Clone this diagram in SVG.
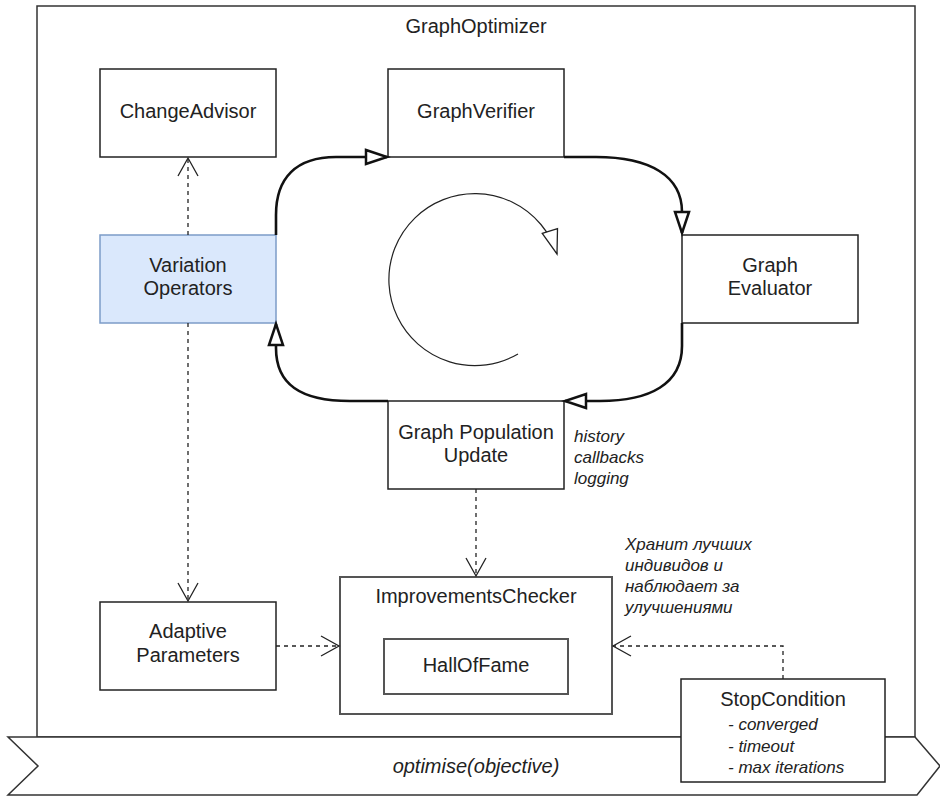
<svg xmlns="http://www.w3.org/2000/svg" width="940" height="796" viewBox="0 0 940 796">
  <style>
    .box { fill: #ffffff; stroke: #222222; stroke-width: 1.5; }
    .blue { fill: #dae8fc; stroke: #7c9cc8; stroke-width: 1.5; }
    .gbox { fill: #ffffff; stroke: #555555; stroke-width: 2; }
    .t { font-family: "Liberation Sans", Arial, sans-serif; font-size: 20px; fill: #222222; text-anchor: middle; }
    .n { font-family: "Liberation Sans", Arial, sans-serif; font-size: 17px; font-style: italic; fill: #222222; }
    .loop { fill: none; stroke: #111111; stroke-width: 2.6; marker-end: url(#block); }
    .dash { fill: none; stroke: #222222; stroke-width: 1.3; stroke-dasharray: 4 4; marker-end: url(#open); }
  </style>
  <defs>
    <marker id="block" markerUnits="userSpaceOnUse" markerWidth="30" markerHeight="24" viewBox="-2 -12 28 24" refX="22" refY="0" orient="auto" overflow="visible">
      <path d="M1,-7 L22,0 L1,7 Z" fill="#ffffff" stroke="#111111" stroke-width="2.5" stroke-linejoin="miter"/>
    </marker>
    <marker id="open" markerUnits="userSpaceOnUse" markerWidth="24" markerHeight="24" viewBox="-2 -12 24 24" refX="18" refY="0" orient="auto" overflow="visible">
      <path d="M0,-10 L18,0 L0,10" fill="none" stroke="#222222" stroke-width="1.3"/>
    </marker>
    <marker id="thin" markerUnits="userSpaceOnUse" markerWidth="30" markerHeight="24" viewBox="-2 -12 28 24" refX="24" refY="0" orient="auto" overflow="visible">
      <path d="M0,-8 L24,0 L0,8 Z" fill="#ffffff" stroke="#222222" stroke-width="1.3"/>
    </marker>
  </defs>

  <g id="GraphOptimizer">
    <rect x="37" y="6" width="878" height="731" fill="#ffffff" stroke="#333333" stroke-width="1.5"/>
    <text class="t" x="476" y="33">GraphOptimizer</text>
  </g>

  <g id="optimise">
    <path d="M8,737 L915,737 L940,766 L917,795 L8,795 L38,766 Z" fill="#ffffff" stroke="#333333" stroke-width="1.5"/>
    <text class="t" x="476" y="773" font-style="italic">optimise(objective)</text>
  </g>

  <g id="cycle">
    <path d="M518,354 A86,86 0 1 1 557,254" fill="none" stroke="#222222" stroke-width="1.2" marker-end="url(#thin)"/>
  </g>

  <g id="ChangeAdvisor">
    <rect class="box" x="100" y="69" width="176" height="88"/>
    <text class="t" x="188" y="118">ChangeAdvisor</text>
  </g>
  <g id="GraphVerifier">
    <rect class="box" x="388" y="69" width="176" height="88"/>
    <text class="t" x="476" y="118">GraphVerifier</text>
  </g>
  <g id="VariationOperators">
    <rect class="blue" x="100" y="235" width="176" height="88"/>
    <text class="t" x="188" y="272">Variation</text>
    <text class="t" x="188" y="295">Operators</text>
  </g>
  <g id="GraphEvaluator">
    <rect class="box" x="682" y="235" width="176" height="88"/>
    <text class="t" x="770" y="272">Graph</text>
    <text class="t" x="770" y="295">Evaluator</text>
  </g>
  <g id="GraphPopulationUpdate">
    <rect class="box" x="388" y="401" width="176" height="88"/>
    <text class="t" x="476" y="439">Graph Population</text>
    <text class="t" x="476" y="462">Update</text>
  </g>
  <g id="AdaptiveParameters">
    <rect class="box" x="100" y="602" width="176" height="88"/>
    <text class="t" x="188" y="638">Adaptive</text>
    <text class="t" x="188" y="662">Parameters</text>
  </g>
  <g id="ImprovementsChecker">
    <rect class="gbox" x="340" y="577" width="272" height="137"/>
    <text class="t" x="476" y="603">ImprovementsChecker</text>
  </g>
  <g id="HallOfFame">
    <rect class="gbox" x="384" y="639" width="184" height="55"/>
    <text class="t" x="476" y="672">HallOfFame</text>
  </g>
  <g id="StopCondition">
    <rect class="box" x="681" y="679" width="204" height="103"/>
    <text class="t" x="783" y="706">StopCondition</text>
    <text class="n" x="728" y="730">- converged</text>
    <text class="n" x="728" y="752">- timeout</text>
    <text class="n" x="728" y="773">- max iterations</text>
  </g>

  <g id="notes">
    <text class="n" x="574" y="442">history</text>
    <text class="n" x="574" y="463">callbacks</text>
    <text class="n" x="574" y="484">logging</text>
    <text class="n" x="625" y="550">Хранит лучших</text>
    <text class="n" x="625" y="571">индивидов и</text>
    <text class="n" x="625" y="592">наблюдает за</text>
    <text class="n" x="625" y="613">улучшениями</text>
  </g>

  <g id="connectors">
    <path class="loop" d="M276,235 L276,215 C276,178 296,157 336,157 L387,157"/>
    <path class="loop" d="M564,157 L596,157 C650,157 682,176 682,212 L682,233"/>
    <path class="loop" d="M682,323 L682,346 C682,384 650,401 600,401 L565,401"/>
    <path class="loop" d="M388,401 L350,401 C300,401 276,384 276,348 L276,324"/>
    <path class="dash" d="M188,235 L188,158"/>
    <path class="dash" d="M188,323 L188,601"/>
    <path class="dash" d="M476,489 L476,576"/>
    <path class="dash" d="M276,646 L339,646"/>
    <path class="dash" d="M783,679 L783,646 L613,646"/>
  </g>
</svg>
